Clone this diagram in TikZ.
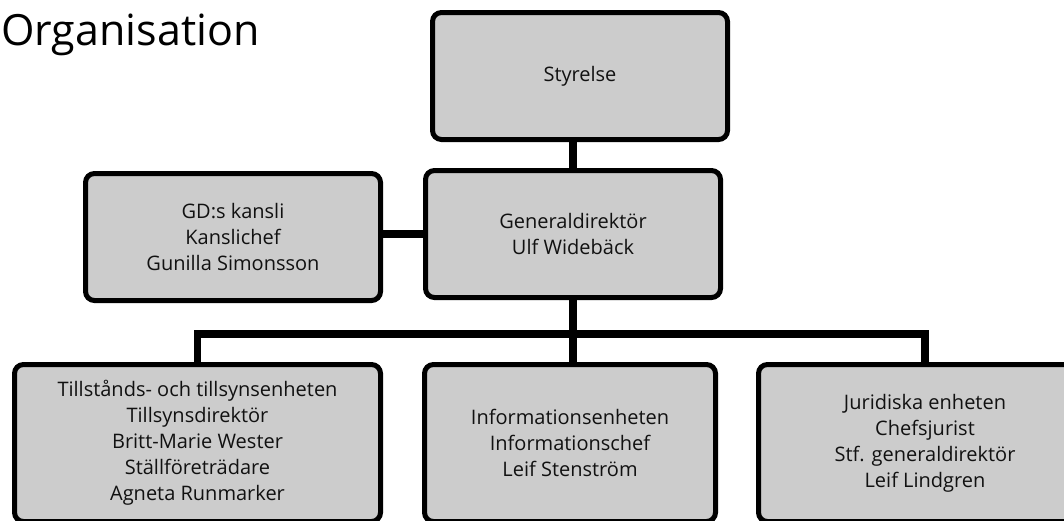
\documentclass[tikz,border=0pt]{standalone}
\usepackage{fontspec}
\setmainfont{Open Sans}
\definecolor{boxgray}{HTML}{CCCCCC}
\definecolor{inkblack}{HTML}{111111}

\begin{document}
\begin{tikzpicture}[x=1pt,y=-1pt,
    unit/.style={draw, line width=5pt, rounded corners=9pt, fill=boxgray,
      minimum width=295pt, minimum height=127pt, align=center,
      text=inkblack, font=\fontsize{20}{26}\selectfont},
    link/.style={line width=7.5pt}]
      \useasboundingbox (0,0) rectangle (1064,520);

        % Title
        \node[anchor=base west, inner sep=0pt, font=\fontsize{43}{52}\selectfont] (title) at (1,45) {Organisation};

        % Top of the chart
        \node[unit] (board) at (580, 76) {Styrelse};
        \node[unit] (gd) at (573, 234) {Generaldirektör\\Ulf Widebäck};
        \node[unit] (office) at (233, 237) {GD:s kansli\\Kanslichef\\Gunilla Simonsson};

        % Units
        \node[unit, minimum width=366pt, minimum height=157pt] (permits) at (197.5, 443)
          {Tillstånds- och tillsynsenheten\\Tillsynsdirektör\\Britt-Marie Wester\\Ställföreträdare\\Agneta Runmarker};
        \node[unit, minimum width=291pt, minimum height=157pt] (info) at (570, 443)
          {Informationsenheten\\Informationschef\\Leif Stenström};
        \node[unit, minimum width=333pt, minimum height=157pt] (legal) at (925, 443)
          {Juridiska enheten\\Chefsjurist\\Stf. generaldirektör\\Leif Lindgren};

        \coordinate (hub) at (573, 334);

        \draw [link] (gd.north) -- (gd.north |- board.south);
        \draw [link] (gd.west) -- (gd.west -| office.east);
        \draw [link] (gd.south) -- (hub);
        \draw [link] (hub) -- (hub |- info.north);
        \draw [link] (permits.north) |- (hub) -| (legal.north);

    \end{tikzpicture}
\end{document}
